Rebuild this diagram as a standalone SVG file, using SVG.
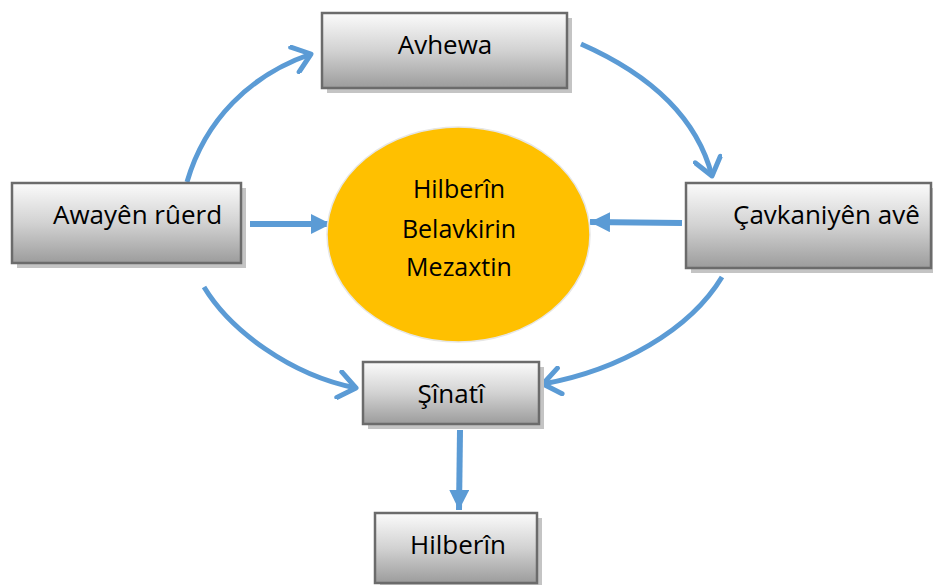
<svg xmlns="http://www.w3.org/2000/svg" width="933" height="585" viewBox="0 0 933 585">
<defs>
<linearGradient id="boxg" x1="0" y1="0" x2="0" y2="1">
<stop offset="0" stop-color="#fbfbfb"/>
<stop offset="0.5" stop-color="#d2d2d2"/>
<stop offset="1" stop-color="#9c9c9c"/>
</linearGradient>
<marker id="tri" markerUnits="userSpaceOnUse" markerWidth="20" markerHeight="20" viewBox="0 0 18 18" refX="18" refY="9" orient="auto">
<path d="M0,0 L18,9 L0,18 Z" fill="#5b9bd5"/>
</marker>
<marker id="chev" markerUnits="userSpaceOnUse" markerWidth="30" markerHeight="30" viewBox="-24 -15 30 30" refX="0" refY="0" orient="auto">
<path d="M-17,-13 L0,0 L-17,13" fill="none" stroke="#5b9bd5" stroke-width="5" stroke-linecap="round" stroke-linejoin="round"/>
</marker>
</defs>
<style>
.box{fill:url(#boxg);stroke:#6b6b6b;stroke-width:2.5}
.sh{fill:#c4c4c4}
.t{font-family:"Open Sans","Liberation Sans",sans-serif;font-size:26px;fill:#000}
.e{font-size:25px}
.c{stroke:#5b9bd5;fill:none}
.curve{stroke-width:5;marker-end:url(#chev)}
.straight{stroke-width:6;marker-end:url(#tri)}
</style>
<g id="connectors">
<path class="c curve" d="M187,182 C205,120 250,75 311,54"/>
<path class="c curve" d="M581,44 C640,70 695,110 712,176"/>
<path class="c curve" d="M204,287 C230,330 290,375 356,388"/>
<path class="c curve" d="M722,277 C690,330 620,370 543,384"/>
<path class="c straight" d="M250,224 L331,224"/>
<path class="c straight" d="M682,223 L590,222"/>
<path class="c straight" d="M460,430 L459,510"/>
</g>
<g id="center">
<ellipse cx="458.5" cy="234.5" rx="131.5" ry="107.5" fill="#ffc000" stroke="#e6e6e6" stroke-width="1.5"/>
<text class="t e" x="459" y="198" text-anchor="middle">Hilberîn</text>
<text class="t e" x="459" y="238" text-anchor="middle">Belavkirin</text>
<text class="t e" x="459" y="276" text-anchor="middle">Mezaxtin</text>
</g>
<g id="avhewa">
<rect class="sh" x="327" y="18" width="245" height="75"/>
<rect class="box" x="322" y="13" width="245" height="75"/>
<text class="t" x="445" y="54" text-anchor="middle">Avhewa</text>
</g>
<g id="awayen">
<rect class="sh" x="17" y="188" width="229" height="80"/>
<rect class="box" x="12" y="183" width="229" height="80"/>
<text class="t" x="53" y="224">Awayên rûerd</text>
</g>
<g id="cavkaniyen">
<rect class="sh" x="691" y="188" width="245" height="85"/>
<rect class="box" x="686" y="183" width="245" height="85"/>
<text class="t" x="733" y="224">Çavkaniyên avê</text>
</g>
<g id="sinati">
<rect class="sh" x="368" y="367" width="176" height="62"/>
<rect class="box" x="363" y="362" width="176" height="62"/>
<text class="t" x="451" y="403" text-anchor="middle">Şînatî</text>
</g>
<g id="hilberin">
<rect class="sh" x="380" y="518" width="162" height="70"/>
<rect class="box" x="375" y="513" width="162" height="70"/>
<text class="t" x="458" y="554" text-anchor="middle">Hilberîn</text>
</g>
</svg>
